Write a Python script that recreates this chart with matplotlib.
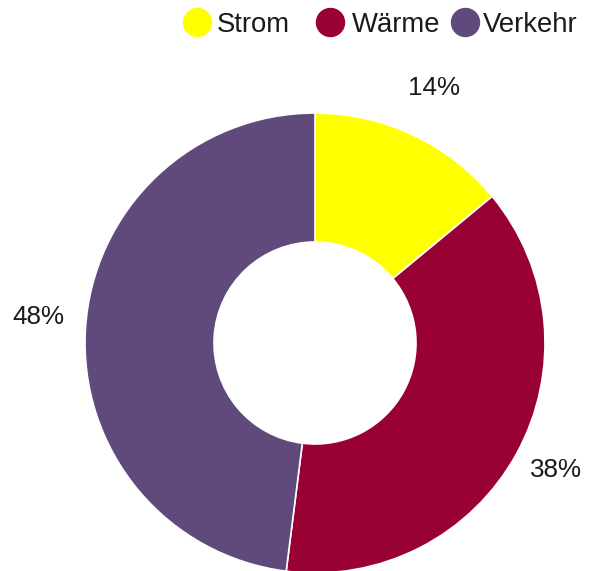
import matplotlib
matplotlib.use("Agg")
import numpy as np
import matplotlib.pyplot as plt

categories = ["Strom", "Wärme", "Verkehr"]
values = [14, 38, 48]
colors = ["#FFFF00", "#990033", "#604A7B"]

plt.rcParams['font.family'] = ['Liberation Sans', 'DejaVu Sans']

W, H = 589, 571
dpi = 100
fig = plt.figure(figsize=(W / dpi, H / dpi), dpi=dpi)
ax = fig.add_axes([0, 0, 1, 1])

cx, cy, R = 315, H - 343, 230
inner = 101
fs = 26 * 72 / dpi
text_color = "#1a1a1a"

wedges, texts, autotexts = ax.pie(
    values, colors=colors, startangle=90, counterclock=False,
    center=(cx, cy), radius=R,
    wedgeprops=dict(width=R - inner, edgecolor="white", linewidth=1.2),
    autopct='%.0f%%', pctdistance=1.2,
    textprops=dict(fontsize=fs, color=text_color),
)

# fine-tune data label placement (layout only), order: Strom, Wärme, Verkehr
label_dist = [1.237, 1.18, 1.205]
label_dx = [-2, 3, 0]
label_dy = [0, 6, 11]
for w, t, d, dx, dy in zip(wedges, autotexts, label_dist, label_dx, label_dy):
    mid = np.deg2rad((w.theta1 + w.theta2) / 2)
    t.set_position((cx + d * R * np.cos(mid) + dx, cy + d * R * np.sin(mid) + dy))
    t.set_va('center_baseline')

ax.set_xlim(0, W)
ax.set_ylim(0, H)
ax.set_aspect('auto')
ax.axis('off')

# legend (manual layout, top right)
leg_fs = 27.5 * 72 / dpi
marker_x = [196.5, 330, 465]
text_x = [217, 352, 483]
leg_y = H - 22
for c, name, mx, tx in zip(colors, categories, marker_x, text_x):
    ax.plot([mx], [leg_y], marker='o', markersize=28 * 72 / dpi, color=c,
            markeredgecolor=c, linestyle='none', clip_on=False)
    ax.text(tx, H - 32, name, fontsize=leg_fs, color=text_color,
            ha='left', va='baseline')

fig.savefig("out.png", dpi=dpi)
